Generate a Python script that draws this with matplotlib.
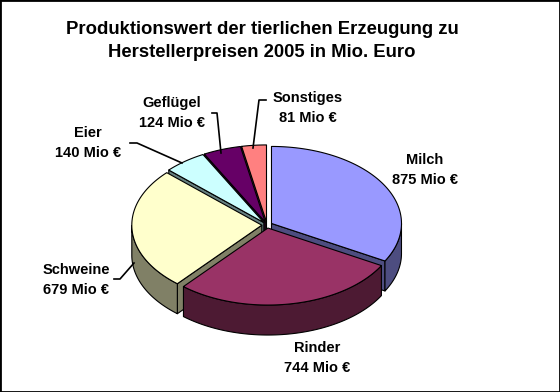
import numpy as np
import matplotlib.pyplot as plt
from matplotlib.patches import Polygon

plt.rcParams['font.family'] = ['Liberation Sans', 'DejaVu Sans']

labels = ['Milch', 'Rinder', 'Schweine', 'Eier', 'Geflügel', 'Sonstiges']
values = [875, 744, 679, 140, 124, 81]
colors = ['#9999FF', '#993366', '#FFFFCC', '#CCFFFF', '#660066', '#FF8080']
side_colors = ['#4D4D80', '#4D1A33', '#808066', '#668080', '#330033', '#804040']

# label centres (pixels) and leader lines
label_pos = [(425, 170), (317, 358), (76, 280), (88, 143), (172, 113), (308, 108)]
leaders = [None, None,
           [(114, 279), (120, 279), (134, 263)],
           [(130, 143), (137, 143), (182, 163)],
           [(212, 113), (217, 113), (221, 153)],
           [(266, 100), (259, 100), (253, 148)]]

CX, CY = 267, 225
RX, RY = 130, 77
DEPTH = 30
EXPL = 0.04

fig = plt.figure(figsize=(5.6, 3.92), dpi=100)
ax = fig.add_axes([0, 0, 1, 1])
ax.set_xlim(0, 560)
ax.set_ylim(392, 0)
ax.set_xticks([])
ax.set_yticks([])
for s in ax.spines.values():
    s.set_linewidth(2)
    s.set_color('black')

total = sum(values)
cum = np.cumsum([0] + values)
starts = 90 - cum[:-1] / total * 360
ends = 90 - cum[1:] / total * 360


def rim(ox, oy, t):
    return np.column_stack([CX + ox + RX * np.cos(t), CY + oy - RY * np.sin(t)])


def draw(pts, fc):
    ax.add_patch(Polygon(pts, closed=True, facecolor=fc, edgecolor='black',
                         linewidth=0.8, joinstyle='round'))


mids = np.radians((starts + ends) / 2)
order = np.argsort(-np.sin(mids))
for i in order:
    a, b = np.radians(ends[i]), np.radians(starts[i])
    m = mids[i]
    ox, oy = EXPL * RX * np.cos(m), -EXPL * RY * np.sin(m)
    apex = np.array([[CX + ox, CY + oy]])
    down = np.array([0, DEPTH])
    # radial side faces
    if np.cos(a) > 1e-6:
        p = rim(ox, oy, np.array([a]))
        draw(np.vstack([apex, p, p + down, apex + down]), side_colors[i])
    if np.cos(b) < -1e-6:
        p = rim(ox, oy, np.array([b]))
        draw(np.vstack([apex, p, p + down, apex + down]), side_colors[i])
    # outer wall
    t = np.linspace(a, b, 300)
    t = t[np.sin(t) < 0]
    if len(t) > 1:
        arc = rim(ox, oy, t)
        draw(np.vstack([arc, arc[::-1] + down]), side_colors[i])
    # top face
    arc = rim(ox, oy, np.linspace(a, b, 300))
    draw(np.vstack([apex, arc]), colors[i])

for i, name in enumerate(labels):
    x, y = label_pos[i]
    ax.text(x, y, f'{name}\n{values[i]} Mio €', ha='center', va='center',
            fontsize=10.5, fontweight='bold', linespacing=1.55)
    if leaders[i]:
        xs, ys = zip(*leaders[i])
        ax.plot(xs, ys, color='black', lw=1.2)

ax.text(262, 41, 'Produktionswert der tierlichen Erzeugung zu\n'
        'Herstellerpreisen 2005 in Mio. Euro', ha='center', va='center',
        fontsize=13.3, fontweight='bold', linespacing=1.4)

fig.savefig('out.png', dpi=100)
